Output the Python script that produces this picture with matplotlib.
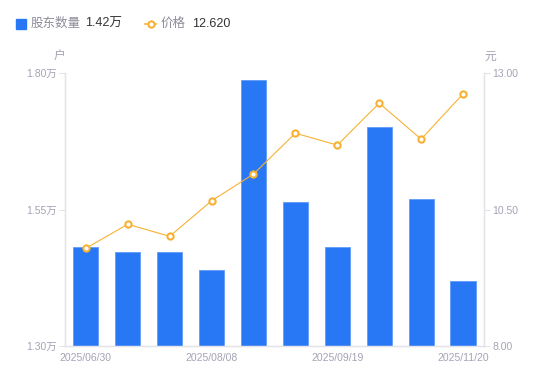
import numpy as np
import matplotlib
matplotlib.use("Agg")
import matplotlib.pyplot as plt
from matplotlib.lines import Line2D

plt.rcParams["font.family"] = ["Liberation Sans", "Noto Sans CJK SC", "DejaVu Sans"]

# data
dates = ["2025/06/30", "", "", "2025/08/08", "", "", "2025/09/19", "", "", "2025/11/20"]
holders = [1.481, 1.472, 1.472, 1.439, 1.787, 1.564, 1.481, 1.701, 1.569, 1.419]  # 万户
price = [9.79, 10.23, 10.01, 10.66, 11.15, 11.90, 11.68, 12.45, 11.79, 12.62]
left_ticks = [1.30, 1.55, 1.80]
right_ticks = [8.00, 10.50, 13.00]

BLUE = "#2878F6"
ORANGE = "#F8B133"
GREY = "#A3A3B5"
AXIS = "#E3E3E8"

fig = plt.figure(figsize=(5.5, 3.81), dpi=100)
ax = fig.add_axes([0.118, 0.092, 0.762, 0.716])
ax2 = ax.twinx()

x = np.arange(len(holders))
ax.bar(x, holders, width=0.6, color=BLUE, edgecolor="#5E9BF8", linewidth=0.6, zorder=2)
ax.set_xlim(-0.5, len(holders) - 0.5)
ax.set_ylim(left_ticks[0], left_ticks[-1])
ax.set_yticks(left_ticks)
ax.set_yticklabels([f"{v:.2f}万" for v in left_ticks])

ax2.plot(x, price, color=ORANGE, linewidth=0.8, marker="o", markersize=4.5,
         markerfacecolor="white", markeredgecolor=ORANGE, markeredgewidth=1.5, zorder=3)
ax2.set_ylim(right_ticks[0], right_ticks[-1])
ax2.set_yticks(right_ticks)
ax2.set_yticklabels([f"{v:.2f}" for v in right_ticks])

ax.set_xticks(x)
ax.set_xticklabels(dates)
ax.tick_params(axis="x", length=0, pad=5, labelsize=7.5, labelcolor=GREY)
ax.tick_params(axis="y", length=4, width=0.8, color=AXIS, pad=2, labelsize=7.5, labelcolor=GREY)
ax2.tick_params(axis="y", length=4, width=0.8, color=AXIS, pad=2, labelsize=7.5, labelcolor=GREY)

for a in (ax, ax2):
    a.spines["top"].set_visible(False)
    for s in ("left", "right", "bottom"):
        a.spines[s].set_color(AXIS)
        a.spines[s].set_linewidth(0.9)

ax.set_zorder(ax2.get_zorder() - 1)
ax2.patch.set_visible(False)

# axis names
fig.text(60 / 550, 1 - 57 / 381, "户", ha="center", va="center", fontsize=8.5, color=GREY)
fig.text(490 / 550, 1 - 57 / 381, "元", ha="center", va="center", fontsize=8.5, color=GREY)

# legend row
fig.patches.append(plt.Rectangle((16 / 550, 1 - 29 / 381), 10 / 550, 10 / 381,
                                 transform=fig.transFigure, color=BLUE, zorder=5))
fig.text(31 / 550, 1 - 24 / 381, "股东数量", ha="left", va="center", fontsize=9, color="#8C8C9A")
fig.text(85 / 550, 1 - 24 / 381, "1.42万", ha="left", va="center", fontsize=9, color="#333333")
fig.lines.append(Line2D([145 / 550, 156 / 550], [1 - 24 / 381] * 2, transform=fig.transFigure,
                        color=ORANGE, linewidth=1.2))
fig.lines.append(Line2D([150.5 / 550], [1 - 24 / 381], transform=fig.transFigure,
                        marker="o", markersize=4.5, markerfacecolor="white",
                        markeredgecolor=ORANGE, markeredgewidth=1.5, linestyle="none"))
fig.text(161 / 550, 1 - 24 / 381, "价格", ha="left", va="center", fontsize=9, color="#8C8C9A")
fig.text(192 / 550, 1 - 24 / 381, "12.620", ha="left", va="center", fontsize=9, color="#333333")

fig.savefig("out.png", dpi=100)
